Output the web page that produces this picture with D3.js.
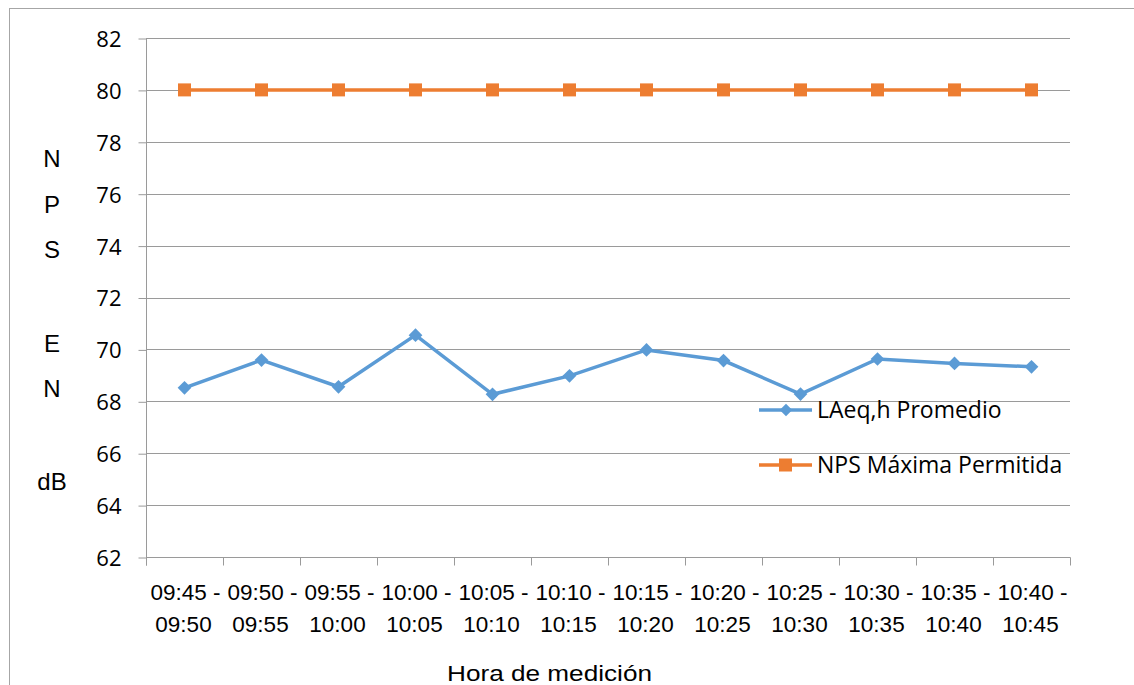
<!DOCTYPE html>
<html>
<head>
<meta charset="utf-8">
<script src="https://cdn.jsdelivr.net/npm/d3@7"></script>
<style>
  body { margin: 0; background: #fff; }
  svg text { font-family: "Liberation Sans", Arial, sans-serif; fill: #000; }
</style>
</head>
<body>
<svg id="chart" width="1134" height="685"></svg>
<script>
// Intervalos de medición (inicio, fin)
const intervalStarts = ["09:45", "09:50", "09:55", "10:00", "10:05", "10:10",
                        "10:15", "10:20", "10:25", "10:30", "10:35", "10:40"];
const intervalEnds   = ["09:50", "09:55", "10:00", "10:05", "10:10", "10:15",
                        "10:20", "10:25", "10:30", "10:35", "10:40", "10:45"];
// LAeq,h promedio por intervalo (dB)
const laeqValues = [68.52, 69.59, 68.56, 70.55, 68.27, 68.98,
                    69.98, 69.57, 68.28, 69.63, 69.46, 69.33];
// Nivel máximo permitido (dB)
const npsMaxValues = [80, 80, 80, 80, 80, 80, 80, 80, 80, 80, 80, 80];
const yTicks = [62, 64, 66, 68, 70, 72, 74, 76, 78, 80, 82];
const seriesNames = ["LAeq,h Promedio", "NPS Máxima Permitida"];
// Título vertical del eje Y, una línea por fila (baseline)
const yTitleLetters = [["N", 167], ["P", 213], ["S", 258], ["E", 352], ["N", 397], ["dB", 490]];

const svg = d3.select("#chart");
const margin = { left: 146, right: 1070, top: 38, bottom: 557 };
const blue = "#5B9BD5", orange = "#ED7D31", gridColor = "#9a9a9a";
const tickFont = "'Open Sans', sans-serif";

// Marco del gráfico
svg.append("rect").attr("x", 9.5).attr("y", 8.5).attr("width", 1140).attr("height", 700)
  .attr("fill", "none").attr("stroke", "#a6a6a6").attr("stroke-width", 1);

const x = d3.scaleBand().domain(intervalStarts).range([margin.left, margin.right]);
const y = d3.scaleLinear().domain([62, 82]).range([margin.bottom, margin.top]);

// Líneas de cuadrícula horizontales
svg.append("g").selectAll("line").data(yTicks.slice(1)).join("line")
  .attr("x1", margin.left).attr("x2", margin.right)
  .attr("y1", d => Math.round(y(d)) + 0.5).attr("y2", d => Math.round(y(d)) + 0.5)
  .attr("stroke", gridColor).attr("stroke-width", 1);

// Eje Y
const yAxis = svg.append("g").attr("transform", `translate(${margin.left + 0.5},0.5)`)
  .call(d3.axisLeft(y).tickValues(yTicks).tickSize(8).tickPadding(17).tickFormat(d3.format("d")));
yAxis.select(".domain").attr("stroke", gridColor).attr("d", `M0,${y(82)}V${y(62) + 8}`);
yAxis.selectAll(".tick line").attr("stroke", gridColor);
yAxis.selectAll(".tick text").attr("font-size", 22).attr("dy", "0.36em").style("font-family", tickFont);

// Eje X
const xAxis = svg.append("g").attr("transform", `translate(0.5,${margin.bottom + 0.5})`)
  .call(d3.axisBottom(x).tickSize(0).tickFormat(""));
xAxis.select(".domain").attr("stroke", gridColor).attr("d", `M${margin.left},0H${margin.right}`);
const bounds = intervalStarts.map(d => x(d)).concat([margin.right]);
xAxis.append("g").selectAll("line").data(bounds).join("line")
  .attr("x1", d => Math.round(d)).attr("x2", d => Math.round(d))
  .attr("y1", 0).attr("y2", 8).attr("stroke", gridColor);

const labels = svg.append("g").attr("font-size", 22.5).attr("text-anchor", "middle")
  .style("font-family", tickFont);
intervalStarts.forEach((s, i) => {
  const cx = x(s) + x.bandwidth() / 2;
  labels.append("text").attr("x", cx + 1).attr("y", 600).text(s + " -");
  labels.append("text").attr("x", cx - 1).attr("y", 632).text(intervalEnds[i]);
});

// Títulos de ejes
svg.append("text").attr("x", 447).attr("y", 681)
  .attr("font-size", 22).attr("textLength", 205).attr("lengthAdjust", "spacingAndGlyphs")
  .text("Hora de medición");
svg.append("g").selectAll("text").data(yTitleLetters).join("text")
  .attr("x", 52).attr("y", d => d[1]).attr("text-anchor", "middle")
  .attr("font-size", 24).text(d => d[0]);

const cx = (d, i) => x(intervalStarts[i]) + x.bandwidth() / 2;
const line = d3.line().x(cx).y(d => y(d));

// NPS máxima permitida
svg.append("path").datum(npsMaxValues).attr("d", line)
  .attr("fill", "none").attr("stroke", orange).attr("stroke-width", 3.5);
svg.append("g").selectAll("rect").data(npsMaxValues).join("rect")
  .attr("x", (d, i) => cx(d, i) - 6.5).attr("y", d => y(d) - 6.5)
  .attr("width", 13).attr("height", 13).attr("fill", orange);

// LAeq,h promedio
svg.append("path").datum(laeqValues).attr("d", line)
  .attr("fill", "none").attr("stroke", blue).attr("stroke-width", 3.5);
const diamond = d3.symbol().type(d3.symbolDiamond2).size(120);
svg.append("g").selectAll("path").data(laeqValues).join("path")
  .attr("transform", (d, i) => `translate(${cx(d, i)},${y(d)})`)
  .attr("d", diamond).attr("fill", blue);

// Leyenda
const legend = svg.append("g");
const legendRows = [
  { name: seriesNames[0], color: blue, yPos: 410, marker: "diamond" },
  { name: seriesNames[1], color: orange, yPos: 465, marker: "square" }
];
legendRows.forEach(r => {
  legend.append("line").attr("x1", 759).attr("x2", 812).attr("y1", r.yPos).attr("y2", r.yPos)
    .attr("stroke", r.color).attr("stroke-width", 3.5);
  if (r.marker === "diamond") {
    legend.append("path").attr("transform", `translate(786,${r.yPos})`)
      .attr("d", d3.symbol().type(d3.symbolDiamond2).size(100)).attr("fill", r.color);
  } else {
    legend.append("rect").attr("x", 779).attr("y", r.yPos - 6.5).attr("width", 13).attr("height", 13)
      .attr("fill", r.color);
  }
  legend.append("text").attr("x", 817).attr("y", r.yPos + 8).attr("font-size", 23)
    .style("font-family", tickFont).text(r.name);
});
</script>
</body>
</html>
